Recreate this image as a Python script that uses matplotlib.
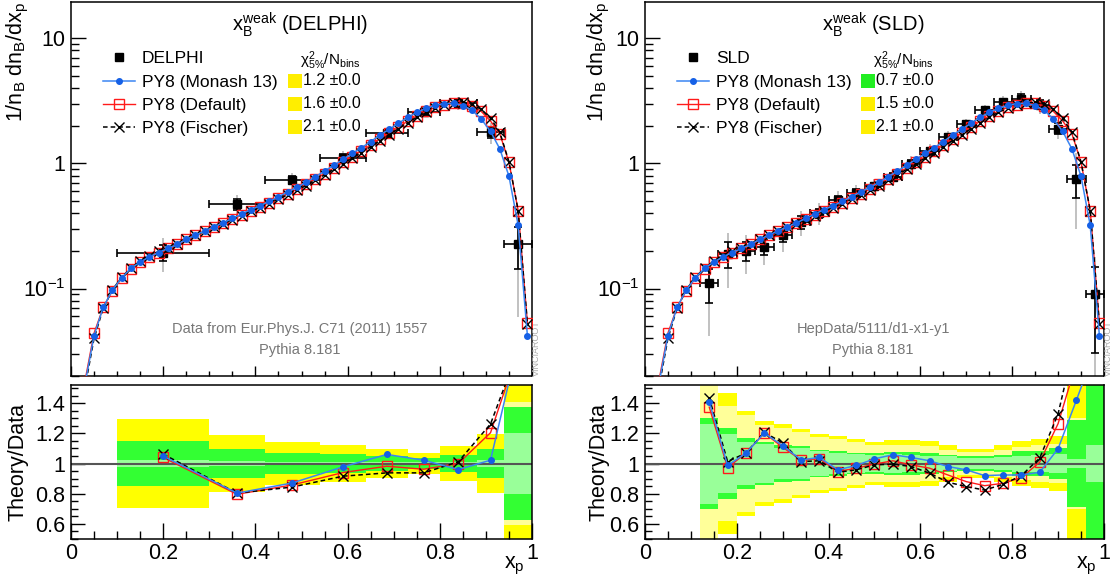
import matplotlib
matplotlib.use('Agg')
import matplotlib.pyplot as plt
import numpy as np
from matplotlib.lines import Line2D
from matplotlib.patches import Rectangle
from matplotlib.ticker import LogLocator, MultipleLocator, NullFormatter

plt.rcParams['font.family'] = ['Liberation Sans', 'DejaVu Sans']
plt.rcParams['mathtext.fontset'] = 'custom'
plt.rcParams['mathtext.rm'] = 'Liberation Sans'
plt.rcParams['mathtext.it'] = 'Liberation Sans'
plt.rcParams['mathtext.default'] = 'regular'

# --- MC predictions (bins of 0.02 in x_p) ---
x_mc = np.round(np.arange(0.03, 1.0, 0.02), 2)
monash = [0.017, 0.042, 0.071, 0.097, 0.122, 0.145, 0.163, 0.179, 0.194, 0.209,
          0.225, 0.247, 0.267, 0.289, 0.311, 0.335, 0.363, 0.393, 0.428, 0.459,
          0.497, 0.541, 0.593, 0.643, 0.705, 0.782, 0.869, 0.964, 1.077, 1.20,
          1.334, 1.49, 1.686, 1.87, 2.09, 2.33, 2.56, 2.75, 2.91, 3.00,
          3.02, 2.90, 2.66, 2.26, 1.80, 1.31, 0.79, 0.32, 0.042]
default = [0.018, 0.044, 0.071, 0.096, 0.121, 0.143, 0.162, 0.178, 0.194, 0.209,
           0.226, 0.247, 0.267, 0.289, 0.311, 0.333, 0.360, 0.388, 0.420, 0.450,
           0.486, 0.527, 0.574, 0.622, 0.680, 0.750, 0.830, 0.920, 1.02, 1.13,
           1.26, 1.40, 1.57, 1.75, 1.95, 2.17, 2.40, 2.62, 2.80, 2.95,
           3.04, 3.02, 2.88, 2.60, 2.18, 1.73, 1.02, 0.42, 0.053]
fischer = [0.016, 0.040, 0.070, 0.098, 0.123, 0.146, 0.166, 0.183, 0.198, 0.212,
           0.227, 0.247, 0.266, 0.287, 0.308, 0.330, 0.355, 0.383, 0.414, 0.444,
           0.478, 0.517, 0.562, 0.610, 0.665, 0.732, 0.810, 0.895, 0.99, 1.10,
           1.22, 1.36, 1.52, 1.69, 1.89, 2.10, 2.33, 2.56, 2.76, 2.93,
           3.05, 3.07, 2.96, 2.70, 2.29, 1.78, 1.03, 0.42, 0.052]

# --- DELPHI data ---
delphi_lo = [0.10, 0.30, 0.42, 0.54, 0.64, 0.73, 0.80, 0.88, 0.94]
delphi_hi = [0.30, 0.42, 0.54, 0.64, 0.73, 0.80, 0.88, 0.94, 1.00]
delphi_x = [0.20, 0.36, 0.48, 0.59, 0.685, 0.765, 0.84, 0.91, 0.97]
delphi_y = [0.194, 0.473, 0.735, 1.11, 1.74, 2.56, 3.05, 1.77, 0.226]
delphi_stat1 = [0.023, 0.018, 0.012, 0.010, 0.010, 0.010, 0.012, 0.020, 0.205]
delphi_tot1 = [0.150, 0.098, 0.072, 0.062, 0.050, 0.036, 0.058, 0.098, 0.372]
delphi_stat2 = [0.046, 0.036, 0.024, 0.020, 0.020, 0.020, 0.024, 0.040, 0.409]
delphi_tot2 = [0.295, 0.190, 0.145, 0.124, 0.098, 0.070, 0.117, 0.193, 0.740]
delphi_r_monash = [1.049, 0.804, 0.871, 0.978, 1.060, 1.022, 0.960, 1.022, 1.80]
delphi_r_default = [1.040, 0.796, 0.858, 0.940, 0.982, 0.962, 1.000, 1.204, 1.75]
delphi_r_fischer = [1.062, 0.804, 0.844, 0.916, 0.938, 0.938, 1.011, 1.262, 1.75]
delphi_chi2 = [1.2, 1.6, 2.1]

# --- SLD data ---
sld_lo = np.round(np.arange(0.12, 0.97, 0.04), 2)
sld_hi = sld_lo + 0.04
sld_x = sld_lo + 0.02
sld_y = [0.11, 0.19, 0.20, 0.215, 0.267, 0.341, 0.40, 0.51, 0.58, 0.655, 0.78,
         0.99, 1.245, 1.62, 2.08, 2.67, 3.08, 3.30, 2.95, 1.90, 0.75, 0.09]
sld_stat1 = [0.265, 0.193, 0.145, 0.130, 0.105, 0.100, 0.080, 0.070, 0.066, 0.058, 0.060,
             0.058, 0.053, 0.047, 0.036, 0.036, 0.042, 0.053, 0.058, 0.060, 0.030, 0.120]
sld_tot1 = [0.300, 0.233, 0.168, 0.143, 0.120, 0.117, 0.090, 0.080, 0.072, 0.070, 0.078,
            0.078, 0.070, 0.058, 0.048, 0.048, 0.058, 0.080, 0.085, 0.100, 0.290, 0.660]
sld_stat2 = [0.570, 0.378, 0.320, 0.257, 0.235, 0.206, 0.175, 0.163, 0.140, 0.120, 0.125,
             0.125, 0.113, 0.092, 0.075, 0.073, 0.090, 0.110, 0.120, 0.130, 0.300, 0.900]
sld_tot2 = [0.620, 0.465, 0.347, 0.283, 0.260, 0.228, 0.197, 0.183, 0.160, 0.142, 0.155,
            0.155, 0.147, 0.120, 0.098, 0.098, 0.125, 0.152, 0.160, 0.180, 0.600, 1.000]
sld_r_monash = [1.409, 0.987, 1.069, 1.202, 1.118, 1.024, 1.040, 0.958, 0.987, 1.031, 1.058,
                1.040, 1.018, 0.980, 0.958, 0.920, 0.924, 0.924, 0.942, 1.098, 1.420, 1.75]
sld_r_default = [1.373, 0.973, 1.069, 1.202, 1.107, 1.024, 1.031, 0.947, 0.969, 0.996, 1.018,
                 0.991, 0.969, 0.924, 0.880, 0.853, 0.869, 0.907, 1.009, 1.264, 1.67, 2.2]
sld_r_fischer = [1.436, 1.013, 1.069, 1.207, 1.136, 1.013, 1.018, 0.942, 0.958, 0.991, 0.996,
                 0.980, 0.936, 0.876, 0.847, 0.824, 0.862, 0.920, 1.036, 1.329, 1.85, 2.3]
sld_chi2 = [0.7, 1.5, 2.1]

BLUE_LINE = '#3a85f2'
BLUE_MARK = '#1560e6'
RED = '#ff1a1a'

mc_styles = [
    dict(color=RED, marker='s', mfc='none', mec=RED, ms=6.5, mew=1.0, lw=1.0, zorder=4),
    dict(color='black', marker='x', ms=7, mew=1.0, lw=1.1, ls=(0, (3, 2)), zorder=5),
    dict(color=BLUE_LINE, marker='o', mfc=BLUE_MARK, mec=BLUE_MARK, ms=4, lw=1.1, zorder=6),
]

fig = plt.figure(figsize=(11.13, 5.78), dpi=100)


def setup_axes(ax_top, ax_rat):
    for ax in (ax_top, ax_rat):
        ax.set_xlim(0, 1)
        ax.xaxis.set_major_locator(MultipleLocator(0.2))
        ax.xaxis.set_minor_locator(MultipleLocator(0.05))
        ax.tick_params(which='both', direction='in', top=False, right=False,
                       width=1, labelsize=15.5)
        for sp in ax.spines.values():
            sp.set_linewidth(1.1)
    ax_top.set_yscale('log')
    ax_top.set_ylim(0.02, 19.5)
    ax_top.set_yticks([0.1, 1, 10], labels=[r'$10^{-1}$', '1', '10'])
    ax_top.yaxis.set_minor_locator(LogLocator(base=10, subs=np.arange(2, 10)))
    ax_top.yaxis.set_minor_formatter(NullFormatter())
    ax_top.tick_params(axis='x', which='major', length=7, labelbottom=False)
    ax_top.tick_params(axis='x', which='minor', length=3.6)
    ax_top.tick_params(axis='y', which='major', length=10.5, pad=4)
    ax_top.tick_params(axis='y', which='minor', length=5.5)

    ax_rat.set_ylim(0.5, 1.52)
    ax_rat.set_yticks([0.6, 0.8, 1.0, 1.2, 1.4], labels=['0.6', '0.8', '1', '1.2', '1.4'])
    ax_rat.yaxis.set_minor_locator(MultipleLocator(0.05))
    ax_rat.set_xticks([0, 0.2, 0.4, 0.6, 0.8, 1.0], labels=['0', '0.2', '0.4', '0.6', '0.8', '1'])
    ax_rat.tick_params(axis='x', which='major', length=11.5, pad=3)
    ax_rat.tick_params(axis='x', which='minor', length=5.8)
    ax_rat.tick_params(axis='y', which='major', length=10, pad=4)
    ax_rat.tick_params(axis='y', which='minor', length=5)


def draw_panel(ax_top, ax_rat, name, lo, hi, xc, y, s1, t1, s2, t2, ratios, chi2, ref_text):
    lo = np.asarray(lo, float)
    hi = np.asarray(hi, float)
    xc = np.asarray(xc, float)
    y = np.asarray(y, float)
    t1 = np.asarray(t1, float)
    t2 = np.asarray(t2, float)

    # data: grey = 2 sigma total, black = 1 sigma total
    ax_top.errorbar(xc, y, yerr=[np.minimum(y * t2, 0.999 * y), y * t2], fmt='none',
                    ecolor='#b0b0b0', elinewidth=1.1, zorder=2)
    ax_top.errorbar(xc, y, xerr=[xc - lo, hi - xc],
                    yerr=[np.minimum(y * t1, 0.999 * y), y * t1],
                    fmt='s', color='black', ms=6, capsize=3, elinewidth=1.2,
                    capthick=1.2, zorder=3)

    for vals, st in zip([default, fischer, monash], mc_styles):
        ax_top.plot(x_mc, vals, **st)

    # ratio bands
    for err, col in ((t2, '#ffff00'), (s2, '#ffff99'), (t1, '#33ff33'), (s1, '#99ff99')):
        err = np.asarray(err, float)
        ax_rat.bar(lo, 2 * err, bottom=1 - err, width=hi - lo, align='edge',
                   color=col, linewidth=0, zorder=1)
    ax_rat.axhline(1.0, color='#555555', lw=1.5, zorder=2)
    for vals, st in zip(ratios, mc_styles):
        ax_rat.plot(xc, vals, **st)

    setup_axes(ax_top, ax_rat)

    # title
    ax_top.text(0.497, 0.94, r'$x_{B}^{weak}$ (' + name + ')', transform=ax_top.transAxes,
                ha='center', va='center', fontsize=14.5)

    # legend
    handles = [
        Line2D([], [], ls='none', marker='s', color='black', ms=6),
        Line2D([], [], color=BLUE_LINE, marker='o', mfc=BLUE_MARK, mec=BLUE_MARK, ms=4, lw=1.1),
        Line2D([], [], color=RED, marker='s', mfc='none', mec=RED, ms=6.5, lw=1.0),
        Line2D([], [], color='black', marker='x', ms=7, lw=1.1, ls=(0, (3, 2))),
    ]
    labels = [name, 'PY8 (Monash 13)', 'PY8 (Default)', 'PY8 (Fischer)']
    ax_top.legend(handles, labels, loc='upper left', bbox_to_anchor=(0.069, 0.868),
                  frameon=False, fontsize=12.5, handlelength=1.85, handletextpad=0.4,
                  labelspacing=0.47, borderpad=0, borderaxespad=0)

    # chi2 column
    ax_top.text(0.562, 0.843, r'$χ^{2}_{5\%}/N_{bins}$', transform=ax_top.transAxes,
                ha='center', va='center', fontsize=11)
    for yc, val in zip([0.789, 0.728, 0.666], chi2):
        col = '#22ee22' if val < 1 else '#ffee00'
        ax_top.add_patch(Rectangle((0.47, yc - 0.019), 0.032, 0.038, transform=ax_top.transAxes,
                                   color=col, lw=0, clip_on=False))
        ax_top.text(0.504, yc, f'{val:.1f} ±0.0', transform=ax_top.transAxes,
                    ha='left', va='center', fontsize=11.5)

    ax_top.text(0.497, 0.126, ref_text, transform=ax_top.transAxes, ha='center',
                va='center', fontsize=10.5, color='#777777')
    ax_top.text(0.497, 0.07, 'Pythia 8.181', transform=ax_top.transAxes, ha='center',
                va='center', fontsize=10.5, color='#777777')
    ax_top.text(1.01, 0.0, 'VINCIAROOT', transform=ax_top.transAxes, rotation=90,
                ha='center', va='bottom', fontsize=6.5, color='#aaaaaa')

    ax_rat.text(0.985, -0.175, r'$x_{p}$', transform=ax_rat.transAxes, ha='right',
                va='center', fontsize=15.5)


axL = fig.add_axes([0.0638, 0.3495, 0.4142, 0.6471])
axLr = fig.add_axes([0.0638, 0.0675, 0.4142, 0.2664])
axR = fig.add_axes([0.5795, 0.3495, 0.4124, 0.6471])
axRr = fig.add_axes([0.5795, 0.0675, 0.4124, 0.2664])

draw_panel(axL, axLr, 'DELPHI', delphi_lo, delphi_hi, delphi_x, delphi_y,
           delphi_stat1, delphi_tot1, delphi_stat2, delphi_tot2,
           [delphi_r_default, delphi_r_fischer, delphi_r_monash], delphi_chi2,
           'Data from Eur.Phys.J. C71 (2011) 1557')
draw_panel(axR, axRr, 'SLD', sld_lo, sld_hi, sld_x, sld_y,
           sld_stat1, sld_tot1, sld_stat2, sld_tot2,
           [sld_r_default, sld_r_fischer, sld_r_monash], sld_chi2,
           'HepData/5111/d1-x1-y1')

for xpos in (0.016, 0.5385):
    fig.text(xpos, 0.996, r'$1/n_{B}\ dn_{B}/dx_{p}$', rotation=90, ha='center',
             va='top', fontsize=15.5)
    fig.text(xpos, 0.2, 'Theory/Data', rotation=90, ha='center', va='center',
             fontsize=15.5)

fig.savefig('out.png', dpi=100)
